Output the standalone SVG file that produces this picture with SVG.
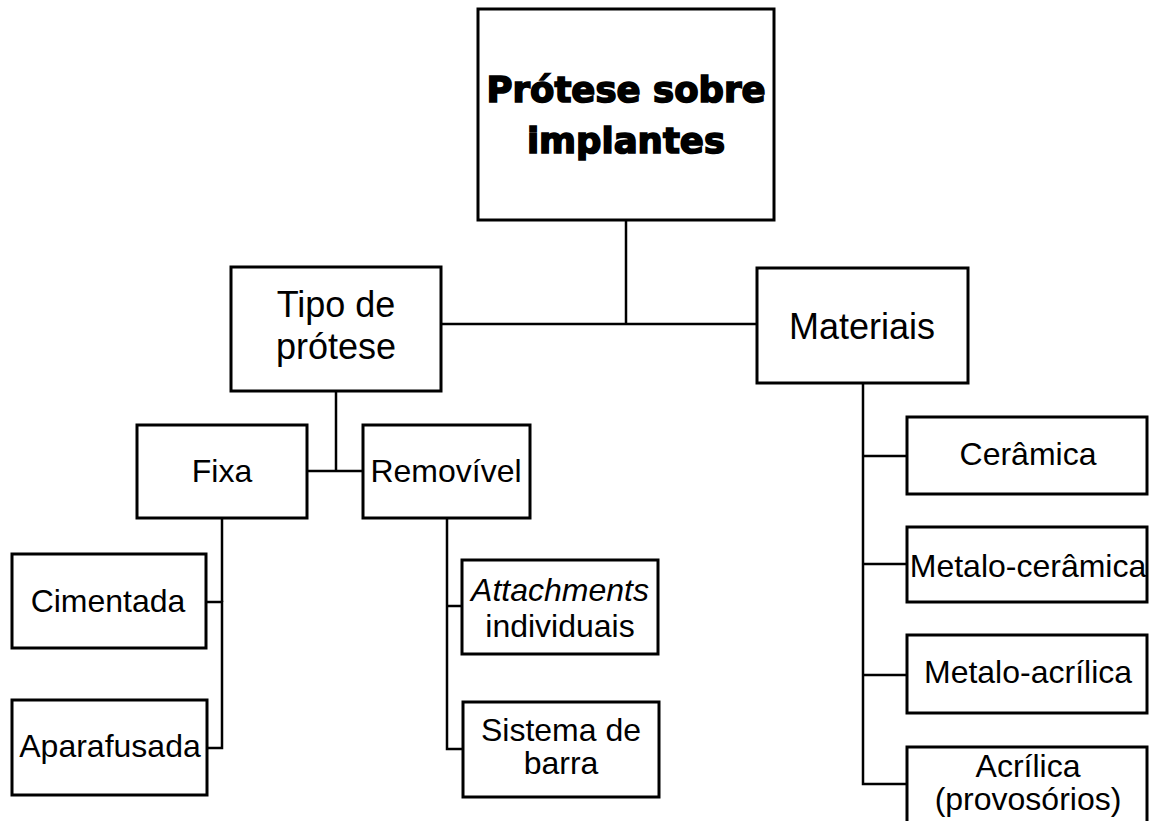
<svg xmlns="http://www.w3.org/2000/svg" width="1150" height="821" viewBox="0 0 1150 821">
<style>
.box{fill:#fff;stroke:#000;stroke-width:3}
.ln{fill:none;stroke:#000;stroke-width:2.5}
.t{font-family:"Liberation Sans",Arial,sans-serif;font-size:32px;fill:#000;text-anchor:middle}
.big{font-size:36px}
.title{font-family:"DejaVu Sans","Liberation Sans",sans-serif;font-weight:bold;font-size:35.5px;fill:#000;stroke:#000;stroke-width:1.6;text-anchor:middle}
</style>
<rect width="1150" height="821" fill="#fff"/>
<g id="connectors">
<polyline class="ln" points="626,220 626,324"/>
<polyline class="ln" points="441,324 757,324"/>
<polyline class="ln" points="336,391 336,471"/>
<polyline class="ln" points="307,471 363,471"/>
<polyline class="ln" points="206,602 222,602 222,748 207,748"/>
<polyline class="ln" points="222,518 222,602"/>
<polyline class="ln" points="447,518 447,749 463,749"/>
<polyline class="ln" points="447,606 462,606"/>
<polyline class="ln" points="863,383 863,784 907,784"/>
<polyline class="ln" points="863,456 907,456"/>
<polyline class="ln" points="863,564 907,564"/>
<polyline class="ln" points="863,675 907,675"/>
</g>
<g id="root">
<rect class="box" x="478" y="9" width="296" height="211"/>
<text class="title" x="626" y="102">Prótese sobre</text>
<text class="title" x="626" y="153">implantes</text>
</g>
<g id="tipo">
<rect class="box" x="231" y="267" width="210" height="124"/>
<text class="t big" x="336" y="317">Tipo de</text>
<text class="t big" x="336" y="359">prótese</text>
</g>
<g id="materiais">
<rect class="box" x="757" y="268" width="211" height="115"/>
<text class="t big" x="862" y="339">Materiais</text>
</g>
<g id="fixa">
<rect class="box" x="137" y="425" width="170" height="93"/>
<text class="t" x="222" y="482">Fixa</text>
</g>
<g id="removivel">
<rect class="box" x="363" y="425" width="167" height="93"/>
<text class="t" x="446" y="482">Removível</text>
</g>
<g id="cimentada">
<rect class="box" x="12" y="554" width="194" height="94"/>
<text class="t" x="108" y="612">Cimentada</text>
</g>
<g id="aparafusada">
<rect class="box" x="12" y="700" width="195" height="95"/>
<text class="t" x="110" y="757">Aparafusada</text>
</g>
<g id="attachments">
<rect class="box" x="462" y="560" width="196" height="94"/>
<text class="t" x="560" y="601" font-style="italic">Attachments</text>
<text class="t" x="560" y="637">individuais</text>
</g>
<g id="sistema">
<rect class="box" x="463" y="702" width="196" height="95"/>
<text class="t" x="561" y="741">Sistema de</text>
<text class="t" x="561" y="774">barra</text>
</g>
<g id="ceramica">
<rect class="box" x="907" y="417" width="240" height="77"/>
<text class="t" x="1028" y="465">Cerâmica</text>
</g>
<g id="metalo-ceramica">
<rect class="box" x="907" y="527" width="240" height="75"/>
<text class="t" x="1028" y="577">Metalo-cerâmica</text>
</g>
<g id="metalo-acrilica">
<rect class="box" x="907" y="635" width="240" height="78"/>
<text class="t" x="1028" y="683">Metalo-acrílica</text>
</g>
<g id="acrilica">
<rect class="box" x="907" y="747" width="240" height="100"/>
<text class="t" x="1028" y="777">Acrílica</text>
<text class="t" x="1028" y="810">(provosórios)</text>
</g>
</svg>
